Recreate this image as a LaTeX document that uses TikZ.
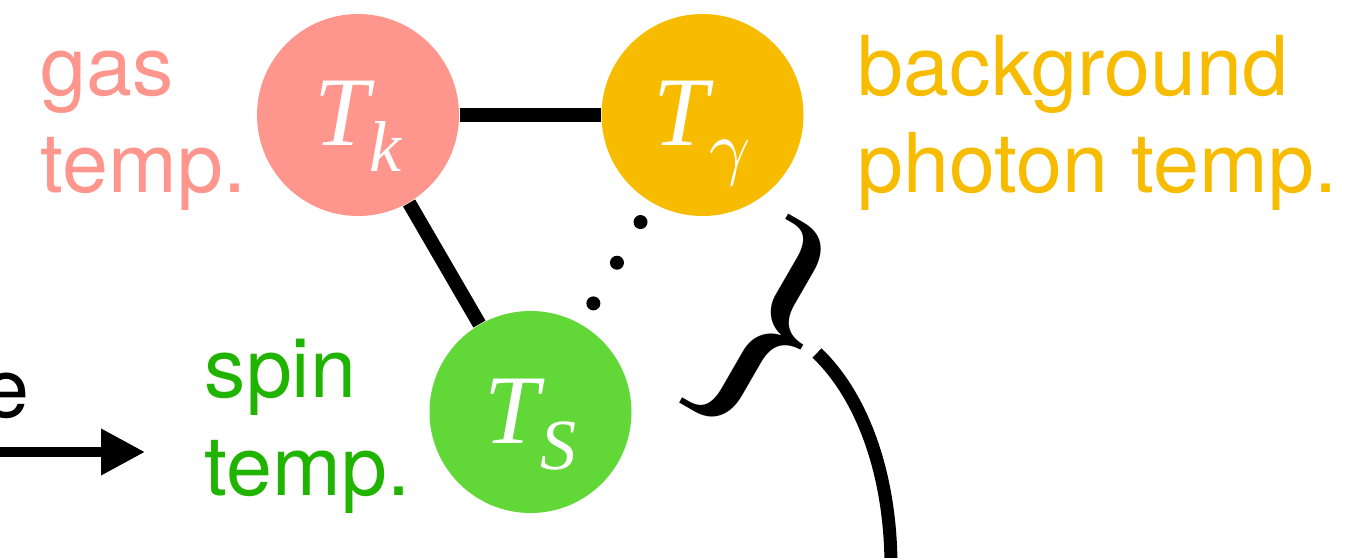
\documentclass[tikz,border=0pt]{standalone}
\usepackage{graphicx}
\usepackage{fontspec}
\setmainfont{TeX Gyre Heros}
\newfontfamily\serifit{Liberation Serif}
\usetikzlibrary{arrows.meta}
\definecolor{tkin}{RGB}{255,150,142}
\definecolor{tgam}{RGB}{247,188,0}
\definecolor{tspin}{RGB}{98,216,56}
\definecolor{tspintxt}{RGB}{32,180,0}
% temperature symbol T with a big lowered subscript
\newcommand{\tsym}[1]{{\serifit\itshape\fontsize{28}{30}\selectfont T\kern0.01em\raisebox{-0.26cm}{\fontsize{20.5}{22}\selectfont #1}}}

\begin{document}
\begin{tikzpicture}[
        tnode/.style={circle, inner sep=0pt, minimum size=2.02cm, text=white, text height=0.72cm, text depth=0.1cm},
        lbl/.style={anchor=base west, inner sep=0pt, align=left, font=\fontsize{23.5}{27.6}\selectfont},
        bond/.style={line width=0.14cm},
        weak/.style={line width=0.14cm, line cap=round, dash pattern=on 0pt off 0.47cm, shorten <=0.22cm, shorten >=0.22cm},
    ]
        \useasboundingbox (0,0) rectangle (13.48,5.57);

        % The three temperatures
        \node[tnode, fill=tkin] (Tk) at (3.58, 4.42) {\tsym{k}};
        \node[tnode, fill=tgam] (Tg) at (7.025, 4.42) {\tsym{\normalsize\scalebox{2.05}{$\gamma$}}};
        \node[tnode, fill=tspin] (Ts) at (5.305, 1.45) {\tsym{S}};

        % couplings
        \draw[bond] (Tk) -- (Tg);
        \draw[bond] (Tk) -- (Ts);
        \draw[weak] (Tg) -- (Ts); % weak coupling

        % Labels (base = last line)
        \node[lbl, text=tkin] (gaslbl) at (0.40, 3.64) {gas\\temp.};
        \node[lbl, text=tgam] (bglbl) at (8.57, 3.64) {background\\photon temp.};
        \node[lbl, text=tspintxt] (spinlbl) at (2.04, 0.62) {spin\\temp.};

        % Incoming arrow (cut at the left edge)
        \node[anchor=base east, inner sep=0pt, font=\fontsize{23.5}{27.6}\selectfont] (elbl) at (0.305, 1.40) {e};
        \coordinate (arrtail) at (-0.1, 1.05);
        \coordinate (arrhead) at (1.45, 1.05);
        \draw[line width=0.1cm, -{Triangle[length=0.44cm, width=0.44cm]}] (arrtail) -- (arrhead);

        % Brace grouping the couplings
        \node[rotate=-30, inner sep=0pt, font=\serifit\fontsize{75}{75}\selectfont] (brace) at (7.68, 2.29) {\}};
        \coordinate (curvetop) at (8.17, 2.04);
        \coordinate (curvebot) at (8.91, -0.1);
        \draw[line width=0.13cm] (curvetop) .. controls (8.60, 1.63) and (8.91, 0.87) .. (curvebot);
    \end{tikzpicture}
\end{document}
